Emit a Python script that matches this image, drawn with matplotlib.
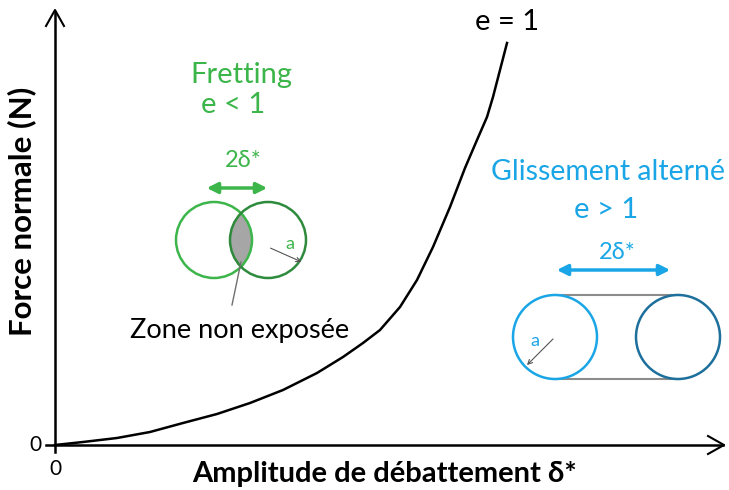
import numpy as np
import matplotlib.pyplot as plt
from matplotlib.patches import Circle

plt.rcParams['font.family'] = ['Lato', 'DejaVu Sans']

# courbe e = 1 (coordonnées, repère pixel)
curve_x = [55, 83, 117, 150, 183, 217, 250, 283, 317, 343, 363, 380, 400, 417, 433, 450, 465, 477, 487, 493, 500, 507]
curve_y = [445, 442, 438, 432, 423, 414, 403, 390, 373, 357, 343, 330, 307, 280, 247, 207, 168, 140, 117, 97, 70, 43]

x_label = "Amplitude de débattement δ*"
y_label = "Force normale (N)"
tick_labels = ["0", "0"]

GREEN = "#3cb54a"
DGREEN = "#2e8a3c"
BLUE = "#1aa6e6"
DBLUE = "#1d6f9c"

fig = plt.figure(figsize=(7.29, 4.90), dpi=100)
ax = fig.add_axes([0, 0, 1, 1])
ax.set_xlim(0, 729)
ax.set_ylim(490, 0)
ax.axis('off')

# axes
ax.plot([55, 55], [452, 12], color='black', lw=1.8)
ax.plot([46, 723], [445, 445], color='black', lw=1.8)
ax.plot([46, 55, 64], [26, 10, 26], color='black', lw=1.5)
ax.plot([708, 724, 708], [436, 445, 454], color='black', lw=1.5)
ax.text(42, 445, tick_labels[0], ha='right', va='center', fontsize=15)
ax.text(55, 469, tick_labels[1], ha='center', va='center', fontsize=15)
ax.text(22, 211, y_label, rotation=90, ha='center', va='center', fontsize=22.5, fontweight='bold')
ax.text(385, 474, x_label, ha='center', va='center', fontsize=21, fontweight='bold')

# courbe
ax.plot(curve_x, curve_y, color='black', lw=1.8, solid_joinstyle='round')
ax.text(507, 22, "e = 1", ha='center', va='center', fontsize=21)

# Fretting
ax.text(241, 75, "Fretting", ha='center', va='center', fontsize=21, color=GREEN)
ax.text(233, 105, "e < 1", ha='center', va='center', fontsize=21, color=GREEN)
ax.text(243, 160, "2δ*", ha='center', va='center', fontsize=17, color=GREEN)
ax.annotate("", xy=(204, 188), xytext=(270, 188),
            arrowprops=dict(arrowstyle='<|-|>', color=GREEN, lw=2.5, mutation_scale=16))
c1 = (214, 240)
c2 = (268, 240)
r = 38
# zone d'intersection grisée
d = c2[0] - c1[0]
h = np.sqrt(r**2 - (d / 2) ** 2)
t1 = np.linspace(-np.arcsin(h / r), np.arcsin(h / r), 40)
right_arc = np.column_stack([c1[0] + r * np.cos(t1), c1[1] + r * np.sin(t1)])
left_arc = np.column_stack([c2[0] - r * np.cos(t1[::-1]), c2[1] + r * np.sin(t1[::-1])])
lens = np.vstack([right_arc, left_arc])
ax.fill(lens[:, 0], lens[:, 1], color='#a6a6a6', zorder=1)
ax.add_patch(Circle(c1, r, fill=False, ec=GREEN, lw=1.8, zorder=2))
ax.add_patch(Circle(c2, r, fill=False, ec=DGREEN, lw=1.8, zorder=2))
ax.annotate("", xy=(304, 263), xytext=(268, 247),
            arrowprops=dict(arrowstyle='->', color='#555555', lw=0.8, mutation_scale=8))
ax.text(290, 244, "a", ha='center', va='center', fontsize=13, color=GREEN)
ax.plot([241, 232], [262, 305], color='#707070', lw=1.0)
ax.text(240, 330, "Zone non exposée", ha='center', va='center', fontsize=19.5)

# Glissement alterné
ax.text(725, 172, "Glissement alterné", ha='right', va='center', fontsize=20.5, color=BLUE)
ax.text(606, 210, "e > 1", ha='center', va='center', fontsize=21, color=BLUE)
ax.text(617, 252, "2δ*", ha='center', va='center', fontsize=17, color=BLUE)
ax.annotate("", xy=(554, 270), xytext=(673, 270),
            arrowprops=dict(arrowstyle='<|-|>', color=BLUE, lw=2.5, mutation_scale=16))
b1 = (555, 337)
b2 = (678, 337)
rb = 42
ax.plot([b1[0], b2[0]], [b1[1] - rb, b2[1] - rb], color='#8c8c8c', lw=1.5, zorder=1)
ax.plot([b1[0], b2[0]], [b1[1] + rb, b2[1] + rb], color='#8c8c8c', lw=1.5, zorder=1)
ax.add_patch(Circle(b1, rb, fc='white', ec=BLUE, lw=1.8, zorder=2))
ax.add_patch(Circle(b2, rb, fc='white', ec=DBLUE, lw=1.8, zorder=2))
ax.annotate("", xy=(525, 367), xytext=(555, 337),
            arrowprops=dict(arrowstyle='->', color='#555555', lw=0.8, mutation_scale=8), zorder=3)
ax.text(535, 341, "a", ha='center', va='center', fontsize=13, color=BLUE, zorder=3)

fig.savefig("out.png", dpi=100)
